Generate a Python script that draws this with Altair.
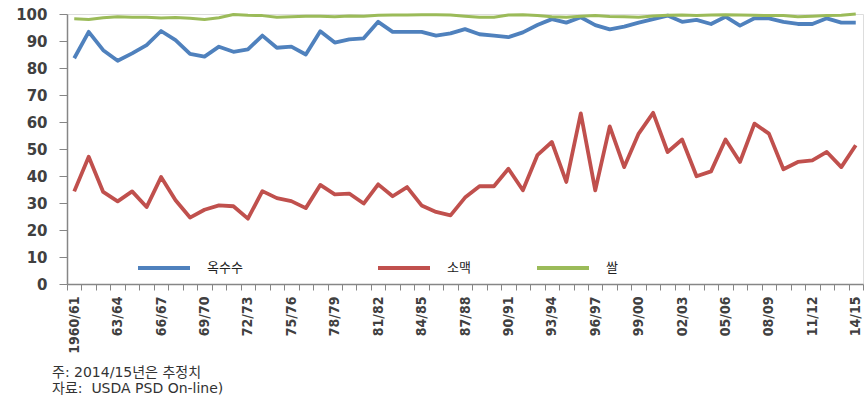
import json
import altair as alt
import pandas as pd

# Marketing years 1960/61 .. 2014/15
start_years = list(range(1960, 2015))
year_labels = ["1960/61"] + [f"{y % 100:02d}/{(y + 1) % 100:02d}" for y in start_years[1:]]
shown_labels = year_labels[::3]

series_names = ["옥수수", "소맥", "쌀"]
series_colors = ["#4F81BD", "#C0504D", "#9BBB59"]
series_widths = [3.8, 3.8, 3.0]
legend_x = [69, 309, 468]

corn = [83.6, 93.4, 86.6, 82.7, 85.4, 88.5, 93.7, 90.3, 85.2, 84.2,
        87.9, 86.0, 86.9, 92.0, 87.5, 87.9, 85.0, 93.6, 89.4, 90.6,
        91.0, 97.1, 93.4, 93.4, 93.4, 92.0, 92.8, 94.4, 92.5, 92.0,
        91.4, 93.2, 95.9, 98.1, 96.8, 98.8, 95.9, 94.3, 95.3, 96.8,
        98.1, 99.4, 97.1, 97.8, 96.3, 99.0, 95.7, 98.4, 98.4, 97.1,
        96.3, 96.3, 98.4, 96.8, 96.8]
wheat = [34.3, 47.1, 34.1, 30.6, 34.3, 28.5, 39.6, 31.0, 24.6, 27.5,
         29.1, 28.8, 24.2, 34.4, 31.8, 30.7, 28.1, 36.7, 33.2, 33.5,
         29.8, 36.9, 32.5, 35.9, 29.1, 26.7, 25.4, 32.0, 36.2, 36.2,
         42.7, 34.7, 47.7, 52.6, 37.8, 63.2, 34.7, 58.4, 43.3, 55.7,
         63.4, 48.9, 53.5, 39.9, 41.7, 53.5, 45.2, 59.4, 55.7, 42.5,
         45.2, 45.8, 48.9, 43.3, 51.4]
rice = [98.2, 98.0, 98.6, 99.0, 98.8, 98.8, 98.5, 98.7, 98.4, 98.0,
        98.6, 99.8, 99.5, 99.4, 98.8, 99.0, 99.2, 99.2, 99.0, 99.3,
        99.2, 99.5, 99.6, 99.6, 99.7, 99.7, 99.6, 99.2, 98.8, 98.8,
        99.6, 99.7, 99.4, 99.0, 98.8, 99.2, 99.4, 99.1, 99.0, 98.8,
        99.3, 99.5, 99.6, 99.4, 99.6, 99.7, 99.6, 99.5, 99.4, 99.4,
        99.0, 99.2, 99.4, 99.5, 100.0]

footnote = ["주: 2014/15년은 추정치", "자료: \u00a0USDA PSD On-line)"]

rows = []
for name, values in zip(series_names, [corn, wheat, rice]):
    for label, v in zip(year_labels, values):
        rows.append({"year": label, "series": name, "value": v})
df = pd.DataFrame(rows)

label_expr = (
    f"indexof({json.dumps(shown_labels, ensure_ascii=False)}, datum.value) >= 0 "
    "? datum.value : ''"
)

axis_gray = "#868686"
text_gray = "#404040"

x_enc = alt.X(
    "year:O",
    sort=year_labels,
    bandPosition=0.5,
    scale=alt.Scale(type="band", paddingInner=0, paddingOuter=0),
    axis=alt.Axis(
        title=None,
        labelAngle=270,
        labelExpr=label_expr,
        labelFont="DejaVu Sans Condensed",
        labelFontWeight="bold",
        labelFontSize=14,
        labelColor=text_gray,
        labelPadding=6,
        labelOverlap=False,
        tickBand="extent",
        tickSize=6,
        tickColor=axis_gray,
        domainColor=axis_gray,
        domainWidth=1.5,
        grid=False,
    ),
)
y_enc = alt.Y(
    "value:Q",
    scale=alt.Scale(domain=[0, 100], nice=False),
    axis=alt.Axis(
        title=None,
        values=list(range(0, 101, 10)),
        labelFont="DejaVu Sans",
        labelFontWeight="bold",
        labelFontSize=15,
        labelColor=text_gray,
        labelPadding=12,
        tickSize=8,
        tickColor=axis_gray,
        domainColor=axis_gray,
        domainWidth=1.5,
        grid=False,
    ),
)

# one layer per crop, each with its own legend entry
layers = []
for name, color, width, lx in zip(series_names, series_colors, series_widths, legend_x):
    layers.append(
        alt.Chart(df)
        .transform_filter(alt.datum.series == name)
        .mark_line(strokeJoin="round", strokeWidth=width)
        .encode(
            x=x_enc,
            y=y_enc,
            color=alt.Color(
                "series:N",
                scale=alt.Scale(domain=[name], range=[color]),
                legend=alt.Legend(
                    title=None,
                    orient="none",
                    legendX=lx,
                    legendY=226,
                    symbolType="stroke",
                    symbolSize=2704,
                    symbolStrokeWidth=4,
                    labelOffset=15,
                    labelFont="Noto Sans CJK KR",
                    labelFontSize=13,
                    labelColor="#222222",
                ),
            ),
        )
    )

chart = alt.layer(*layers).resolve_scale(color="independent").properties(
    width=796,
    height=270,
    autosize=alt.AutoSizeParams(type="none"),
    padding={"left": 67, "top": 14, "right": 5, "bottom": 117},
    title=alt.TitleParams(
        text=footnote,
        orient="bottom",
        anchor="start",
        frame="group",
        dx=-15,
        offset=13,
        font="DejaVu Sans, Noto Sans CJK KR",
        fontSize=14,
        fontWeight="normal",
        color="#333333",
        lineHeight=16,
    ),
).configure_view(stroke=None).configure(background="white")

chart.save("out.html", embed_options={"renderer": "svg", "actions": False})
